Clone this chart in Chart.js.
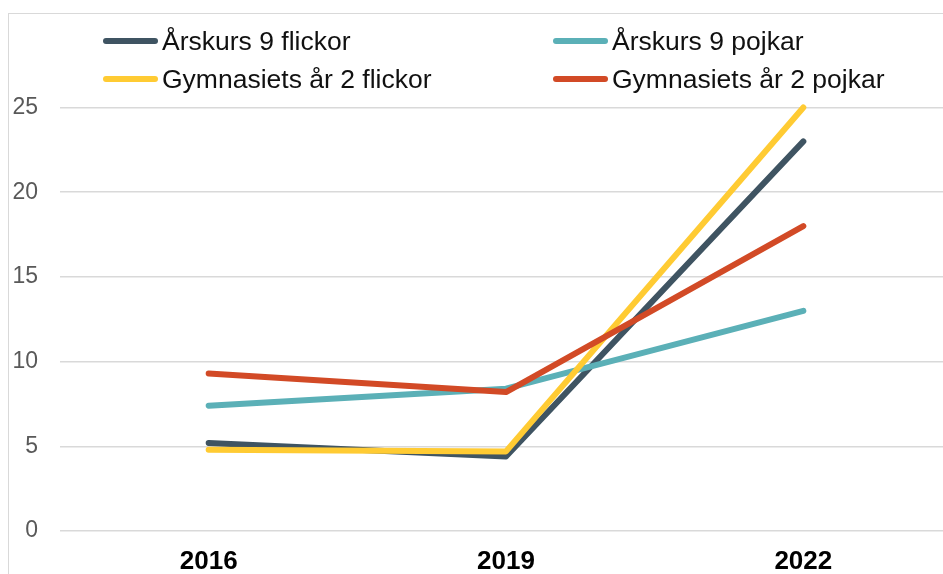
<!DOCTYPE html>
<html>
<head>
<meta charset="utf-8">
<script src="https://cdn.jsdelivr.net/npm/chart.js@4.4.1/dist/chart.umd.min.js"></script>
<style>
  html, body { margin: 0; padding: 0; background: #fff; overflow: hidden; }
  #frame { position: absolute; left: 8px; top: 13px; width: 1000px; height: 620px; border: 1px solid #d9d9d9; }
  canvas { display: block; }
</style>
</head>
<body>
<div id="frame"><canvas id="chart" width="950" height="563"></canvas></div>
<script>
  // data
  var years = ['2016', '2019', '2022'];
  var seriesNames = ['Årskurs 9 flickor', 'Årskurs 9 pojkar', 'Gymnasiets år 2 flickor', 'Gymnasiets år 2 pojkar'];
  var ak9Flickor = [5.2, 4.4, 23.0];
  var ak9Pojkar = [7.4, 8.4, 13.0];
  var gy2Flickor = [4.8, 4.7, 25.0];
  var gy2Pojkar = [9.3, 8.2, 18.0];
  var yTicks = [0, 5, 10, 15, 20, 25];

  var colors = ['#3f5462', '#5bb0b7', '#ffcb33', '#d24a26'];
  var fontFamily = '"Liberation Sans", Arial, sans-serif';

  // legend laid out in two fixed columns like the original
  var legendCols = [97, 547];
  var legendRows = [27, 65];

  var gridLegend = {
    id: 'gridLegend',
    afterDraw: function (chart) {
      var ctx = chart.ctx;
      ctx.save();
      chart.data.datasets.forEach(function (ds, i) {
        var x = legendCols[i % 2];
        var y = legendRows[Math.floor(i / 2)];
        ctx.strokeStyle = ds.borderColor;
        ctx.lineWidth = 6;
        ctx.lineCap = 'round';
        ctx.beginPath();
        ctx.moveTo(x, y);
        ctx.lineTo(x + 49, y);
        ctx.stroke();
        ctx.fillStyle = '#111';
        ctx.font = '26.5px ' + fontFamily;
        ctx.textBaseline = 'alphabetic';
        ctx.fillText(ds.label, x + 56, y + 9);
      });
      ctx.restore();
    }
  };

  function makeSet(name, values, color, order) {
    return {
      label: name,
      data: values,
      borderColor: color,
      backgroundColor: color,
      borderWidth: 6,
      borderCapStyle: 'round',
      borderJoinStyle: 'round',
      pointRadius: 0,
      tension: 0,
      clip: false,
      order: order
    };
  }

  var chart = new Chart(document.getElementById('chart'), {
    type: 'line',
    data: {
      labels: years,
      datasets: [
        makeSet(seriesNames[0], ak9Flickor, colors[0], 4),
        makeSet(seriesNames[1], ak9Pojkar, colors[1], 3),
        makeSet(seriesNames[2], gy2Flickor, colors[2], 2),
        makeSet(seriesNames[3], gy2Pojkar, colors[3], 1)
      ]
    },
    options: {
      responsive: false,
      animation: false,
      layout: { padding: { top: 93.5, right: 7, left: 0, bottom: 0 } },
      plugins: {
        legend: { display: false },
        tooltip: { enabled: false }
      },
      scales: {
        x: {
          offset: true,
          grid: { display: false, drawTicks: false },
          border: { display: false },
          ticks: { color: '#000', padding: 15, font: { family: fontFamily, size: 26, weight: 'bold' } },
          afterFit: function (scale) { scale.height = 46; }
        },
        y: {
          min: 0,
          max: 25,
          afterBuildTicks: function (scale) {
            scale.ticks = yTicks.map(function (v) { return { value: v }; });
          },
          grid: { color: '#d9d9d9', lineWidth: 1.5, drawTicks: false },
          border: { display: false },
          ticks: { color: '#595959', padding: 22, font: { family: fontFamily, size: 23 } },
          afterFit: function (scale) { scale.width = 51; }
        }
      }
    },
    plugins: [gridLegend]
  });
</script>
</body>
</html>
